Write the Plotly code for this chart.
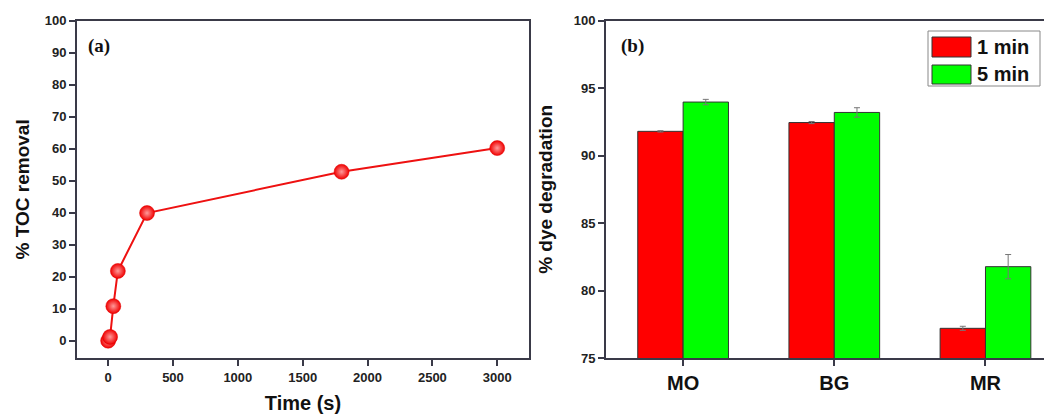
import plotly.graph_objects as go

# Panel (a) data
time_s = [0, 15, 40, 75, 300, 1800, 3000]
toc_removal = [0.0, 1.2, 10.8, 21.8, 39.9, 52.8, 60.2]

# Panel (b) data
dyes = ["MO", "BG", "MR"]
deg_1min = [91.8, 92.45, 77.2]
err_1min = [0.05, 0.08, 0.15]
deg_5min = [93.97, 93.2, 81.77]
err_5min = [0.2, 0.35, 0.9]

OFF = 8  # page body margin
W, H = 1052 - OFF, 416 - OFF
def px_x(p): return (p - OFF) / W
def px_y(p): return 1 - (p - OFF) / H

AX = "#3a3a48"
FONT = "Liberation Sans, Arial"
fig = go.Figure()

fig.add_trace(go.Scatter(
    x=time_s, y=toc_removal, mode="lines+markers",
    line=dict(color="#ee1111", width=2),
    marker=dict(size=15, color="#f00000",
                gradient=dict(type="radial", color="#ff9a9a"),
                line=dict(color="#e00000", width=0.5)),
    xaxis="x", yaxis="y", showlegend=False))

fig.add_trace(go.Bar(
    x=dyes, y=deg_1min, name="1 min", marker=dict(color="#ff0000", line=dict(color="#333333", width=1)),
    error_y=dict(type="data", array=err_1min, color="#777777", thickness=1, width=3),
    xaxis="x2", yaxis="y2", showlegend=False))
fig.add_trace(go.Bar(
    x=dyes, y=deg_5min, name="5 min", marker=dict(color="#00ff00", line=dict(color="#333333", width=1)),
    error_y=dict(type="data", array=err_5min, color="#777777", thickness=1, width=3),
    xaxis="x2", yaxis="y2", showlegend=False))

tickfont = dict(family=FONT, size=13, color="#222222", weight="bold")
common = dict(showline=True, linecolor=AX, linewidth=2, mirror=True, ticks="outside",
              tickcolor=AX, tickwidth=2, ticklen=6, showgrid=False, zeroline=False,
              automargin=False)

fig.update_layout(
    template="none",
    width=W, height=H, margin=dict(l=0, r=0, t=0, b=0, pad=0),
    paper_bgcolor="white", plot_bgcolor="white",
    barmode="group", bargap=0.4, bargroupgap=0, showlegend=False,
    xaxis=dict(domain=[px_x(77), px_x(529)], range=[-240, 3245], tickvals=[0, 500, 1000, 1500, 2000, 2500, 3000],
               title=dict(text="Time (s)", font=dict(family=FONT, size=20, color="#111111", weight="bold"), standoff=12),
               anchor="y", tickfont=tickfont, **common),
    yaxis=dict(domain=[px_y(358), px_y(20.7)], range=[-5.4, 100], tickvals=list(range(0, 101, 10)),
               title=dict(text="% TOC removal", font=dict(family=FONT, size=19, color="#111111", weight="bold"), standoff=10),
               anchor="x", tickfont=tickfont, **common),
    xaxis2=dict(domain=[px_x(606), 1.0], range=[-0.51, 2.44], anchor="y2",
                tickfont=dict(family=FONT, size=20, color="#111111", weight="bold"), **common),
    yaxis2=dict(domain=[px_y(358), px_y(20.7)], range=[75, 100], tickvals=[75, 80, 85, 90, 95, 100], anchor="x2",
                title=dict(text="% dye degradation", font=dict(family=FONT, size=19, color="#111111", weight="bold"), standoff=16),
                tickfont=tickfont, **common),
)

# panel labels
fig.add_annotation(x=px_x(86), y=px_y(46), xref="paper", yref="paper", xanchor="left", yanchor="middle",
                   text="<b>(a)</b>", showarrow=False, font=dict(family="Liberation Serif, Times New Roman", size=19, color="#111111"))
fig.add_annotation(x=px_x(619), y=px_y(46), xref="paper", yref="paper", xanchor="left", yanchor="middle",
                   text="<b>(b)</b>", showarrow=False, font=dict(family="Liberation Serif, Times New Roman", size=19, color="#111111"))

# custom legend for panel (b)
fig.add_shape(type="rect", xref="paper", yref="paper", x0=px_x(928), x1=px_x(1040), y0=px_y(86), y1=px_y(31),
              line=dict(color="#888888", width=1), fillcolor="rgba(0,0,0,0)")
for (y0, y1, col, label) in [(37, 57, "#ff0000", "1 min"), (65, 84, "#00ff00", "5 min")]:
    fig.add_shape(type="rect", xref="paper", yref="paper", x0=px_x(932), x1=px_x(971), y0=px_y(y1), y1=px_y(y0),
                  line=dict(color="#333333", width=1), fillcolor=col)
    fig.add_annotation(x=px_x(975), y=px_y((y0 + y1) / 2), xref="paper", yref="paper", xanchor="left", yanchor="middle",
                       text="<b>" + label + "</b>", showarrow=False,
                       font=dict(family=FONT, size=20, color="#111111"))

fig.write_html("out.html")
